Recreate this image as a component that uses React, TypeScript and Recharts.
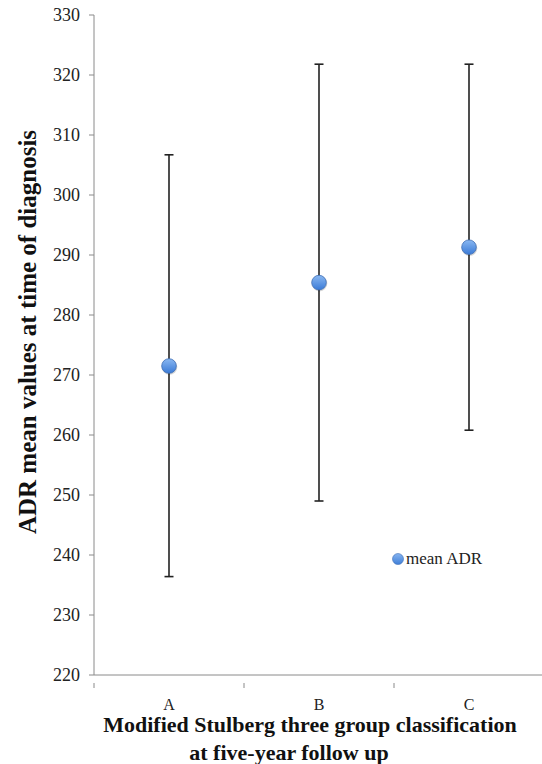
import * as React from 'react';
import { ComposedChart, Line, ErrorBar, XAxis, YAxis, Legend, Label } from 'recharts';

const categories = ['A', 'B', 'C'];
const meanADR = [271.5, 285.4, 291.3];
const lowerADR = [236.4, 249.0, 260.8];
const upperADR = [306.7, 321.8, 321.8];
const yTicks = [220, 230, 240, 250, 260, 270, 280, 290, 300, 310, 320, 330];

const data = categories.map((group, i) => ({
  group,
  mean: meanADR[i],
  err: [meanADR[i] - lowerADR[i], upperADR[i] - meanADR[i]],
}));

const serif = '"Liberation Serif", "DejaVu Serif", serif';
const axisGray = '#8a8a8a';

function XTick(props: any) {
  const { x, y, payload, index } = props;
  const half = payload && payload.offset ? payload.offset : 75;
  return (
    <g>
      <line x1={x - half} y1={y} x2={x - half} y2={y + 5} stroke={axisGray} />
      {index === categories.length - 1 ? (
        <line x1={x + half} y1={y} x2={x + half} y2={y + 5} stroke={axisGray} />
      ) : null}
      <text x={x} y={y + 27} textAnchor="middle" fontFamily={serif} fontSize={16} fill="#222">
        {payload.value}
      </text>
    </g>
  );
}

function MeanDot(props: any) {
  const { cx, cy } = props;
  if (cx == null || cy == null) return null;
  return (
    <g>
      <circle cx={cx + 0.5} cy={cy + 1} r={7.8} fill="rgba(0,0,0,0.16)" />
      <circle cx={cx} cy={cy} r={7.3} fill="url(#dotFill)" stroke="#3f6fb5" strokeWidth={0.8} />
    </g>
  );
}

function LegendBox() {
  return (
    <div style={{ display: 'flex', alignItems: 'center', fontFamily: serif, fontSize: 17, color: '#222' }}>
      <svg width={12} height={12} style={{ marginRight: 2 }}>
        <defs>
          <linearGradient id="legFill" x1="0" y1="0" x2="0" y2="1">
            <stop offset="0%" stopColor="#86b4f0" />
            <stop offset="100%" stopColor="#3f7fd8" />
          </linearGradient>
        </defs>
        <circle cx={6} cy={6} r={5.5} fill="url(#legFill)" stroke="#3f6fb5" strokeWidth={0.6} />
      </svg>
      mean ADR
    </div>
  );
}

function XTitle(props: any) {
  const { viewBox } = props;
  const mid = viewBox.x + viewBox.width / 2;
  const y = viewBox.y;
  return (
    <text textAnchor="middle" fontFamily={serif} fontWeight="bold" fontSize={22} fill="#111">
      <tspan x={mid - 9} y={y + 57}>Modified Stulberg three group classification</tspan>
      <tspan x={mid - 30} y={y + 85}>at five-year follow up</tspan>
    </text>
  );
}

function YTitle(props: any) {
  const { viewBox } = props;
  const x = viewBox.x + 36;
  const y = viewBox.y + viewBox.height / 2 - 13;
  return (
    <text
      x={x}
      y={y}
      transform={`rotate(-90, ${x}, ${y})`}
      textAnchor="middle"
      fontFamily={serif}
      fontWeight="bold"
      fontSize={25}
      fill="#111"
    >
      ADR mean values at time of diagnosis
    </text>
  );
}

export default function App() {
  return (
    <div style={{ position: 'absolute', left: 0, top: 0, width: 542, height: 764, overflow: 'hidden', background: '#fff' }}>
      <ComposedChart
        width={550}
        height={764}
        data={data}
        margin={{ top: 15, right: 6, left: 0, bottom: 0 }}
      >
        <defs>
          <linearGradient id="dotFill" x1="0" y1="0" x2="0" y2="1">
            <stop offset="0%" stopColor="#8ab8f2" />
            <stop offset="100%" stopColor="#3a7ad6" />
          </linearGradient>
        </defs>
        <XAxis
          dataKey="group"
          scale="band"
          height={89}
          axisLine={{ stroke: axisGray }}
          tickLine={false}
          tick={<XTick />}
          interval={0}
        >
          <Label content={<XTitle />} />
        </XAxis>
        <YAxis
          domain={[220, 330]}
          ticks={yTicks}
          width={94}
          axisLine={{ stroke: axisGray }}
          tickLine={{ stroke: axisGray }}
          tickSize={5}
          tickMargin={9}
          tick={{ fontFamily: serif, fontSize: 18, fill: '#222' }}
          interval={0}
        >
          <Label content={<YTitle />} />
        </YAxis>
        <Legend
          content={<LegendBox />}
          layout="horizontal"
          verticalAlign="middle"
          align="center"
          wrapperStyle={{ left: 392, top: 549, width: 120 }}
        />
        <Line
          dataKey="mean"
          name="mean ADR"
          stroke="none"
          isAnimationActive={false}
          dot={<MeanDot />}
          activeDot={false}
        >
          <ErrorBar dataKey="err" direction="y" width={4.5} stroke="#222" strokeWidth={1.6} />
        </Line>
      </ComposedChart>
    </div>
  );
}
